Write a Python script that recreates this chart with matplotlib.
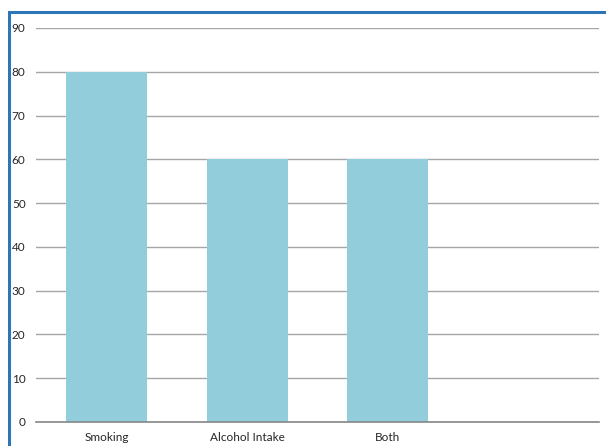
import matplotlib
matplotlib.use("Agg")
import matplotlib.pyplot as plt
from matplotlib.patches import Rectangle

categories = ["Smoking", "Alcohol Intake", "Both", ""]
values = [80, 60, 60, 0]
yticks = [0, 10, 20, 30, 40, 50, 60, 70, 80, 90]

plt.rcParams["font.family"] = ["Lato", "DejaVu Sans"]

fig = plt.figure(figsize=(6.06, 4.46), dpi=100)
ax = fig.add_axes([36 / 606, 24 / 446, 563 / 606, 394 / 446])

x = list(range(len(categories)))
ax.bar(x[:3], values[:3], width=0.575, color="#92CDDC", zorder=2)

ax.set_xlim(-0.5, len(categories) - 0.5)
ax.set_ylim(0, 90)
ax.set_yticks(yticks)
ax.set_xticks(x[:3])
ax.set_xticklabels(categories[:3], fontsize=8.5, color="#262626")
ax.tick_params(axis="y", length=0, pad=7.5, labelsize=8.5, labelcolor="#262626")
ax.tick_params(axis="x", length=0, pad=7)

ax.grid(axis="y", color="#A6A6A6", linewidth=1, zorder=0)
for side in ("top", "right", "left"):
    ax.spines[side].set_visible(False)
ax.spines["bottom"].set_color("#868686")
ax.spines["bottom"].set_linewidth(1.2)
ax.spines["bottom"].set_zorder(3)

# outer chart frame
fig.patches.append(Rectangle((8.5 / 606, -0.1), 1.2, (446 - 12) / 446 + 0.1,
                             transform=fig.transFigure, fill=False,
                             edgecolor="#2E75B6", linewidth=2.2))

fig.savefig("out.png", dpi=100)
